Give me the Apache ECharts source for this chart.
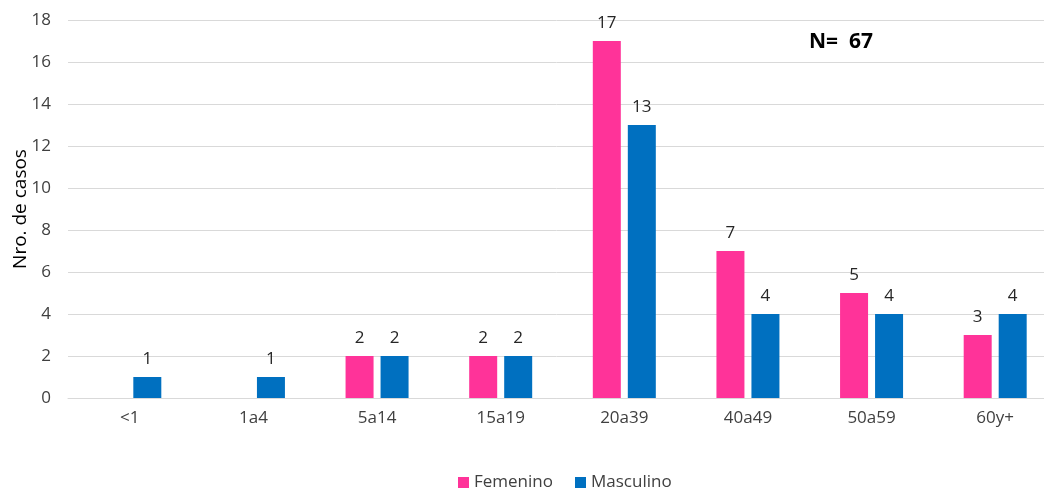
<!DOCTYPE html>
<html><head><meta charset="utf-8">
<script src="https://cdn.jsdelivr.net/npm/echarts@6/dist/echarts.min.js"></script>
<style>html,body{margin:0;padding:0;background:#fff}#c{width:1044px;height:491px}</style>
</head><body><div id="c"></div>
<script>
const categories = ['<1','1a4','5a14','15a19','20a39','40a49','50a59','60y+'];
const femenino = [0,0,2,2,17,7,5,3];
const masculino = [1,1,2,2,13,4,4,4];
const yTicks = {min:0,max:18,interval:2};
const FONT = '"Open Sans", "Noto Sans", sans-serif';
const chart = echarts.init(document.getElementById('c'));
const lbl = {show:true,position:'top',distance:9,color:'#262626',fontSize:17,fontFamily:FONT,
  formatter:p=>p.value===0?'':String(p.value)};
chart.setOption({
  animation:false,
  textStyle:{fontFamily:FONT},
  grid:{left:68,width:989,top:20,bottom:93,containLabel:false,outerBoundsMode:'none'},
  title:{text:'N=  67',left:804,top:27,textStyle:{fontSize:21,fontWeight:'bold',color:'#000',fontFamily:FONT}},
  legend:{top:469,left:453,itemWidth:11,itemHeight:11,itemGap:22,icon:'rect',
    textStyle:{fontSize:17,color:'#404040',fontFamily:FONT},data:['Femenino','Masculino']},
  xAxis:{type:'category',data:categories,axisTick:{show:false},
    axisLine:{lineStyle:{color:'#d9d9d9'}},
    axisLabel:{color:'#404040',fontSize:17,margin:12,fontFamily:FONT}},
  yAxis:{type:'value',min:yTicks.min,max:yTicks.max,interval:yTicks.interval,
    name:'Nro. de casos',nameLocation:'middle',nameGap:38,nameRotate:90,nameMoveOverlap:false,
    nameTextStyle:{fontSize:19,color:'#000',fontFamily:FONT},
    axisLabel:{color:'#404040',fontSize:17,margin:17,fontFamily:FONT},
    splitLine:{lineStyle:{color:'#d9d9d9'}}},
  series:[
    {name:'Femenino',type:'bar',data:femenino,barWidth:28,barGap:'25%',itemStyle:{color:'#FF3399'},label:lbl},
    {name:'Masculino',type:'bar',data:masculino,barWidth:28,barGap:'25%',itemStyle:{color:'#0070C0'},label:lbl}
  ]
});
</script></body></html>
